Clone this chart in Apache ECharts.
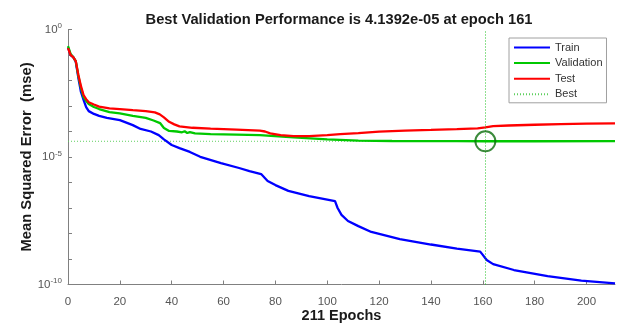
<!DOCTYPE html>
<html>
<head>
<meta charset="utf-8">
<script src="https://cdn.jsdelivr.net/npm/echarts@6/dist/echarts.min.js"></script>
<style>html,body{margin:0;padding:0;background:#fff;}#c{width:617px;height:329px;}</style>
</head>
<body>
<div id="c"></div>
<script>
const titleText = 'Best Validation Performance is 4.1392e-05 at epoch 161';
const xName = '211 Epochs';
const yName = 'Mean Squared Error  (mse)';
const seriesNames = ['Train', 'Validation', 'Test', 'Best'];
const xTicks = [0, 20, 40, 60, 80, 100, 120, 140, 160, 180, 200];
const yTicks = [1e-10, 1e-9, 1e-8, 1e-7, 1e-6, 1e-5, 1e-4, 1e-3, 1e-2, 1e-1, 1];
const yLabels = [1e-10, 1e-5, 1];
const epochMax = 211;
const bestEpoch = 161;
const bestValue = 4.1392e-5;

const trainEpochs = [0,1,2,3,4,5,6,7,8,10,12,15,20,25,28,32,35,37,40,43,47,51,59,66,70,74.5,77,80,85,93,103,104,105.5,108,112,117,128,140,150,159,160,161.5,164,172,185,198,211];
const trainValues = [2.0e-1,1.0e-1,8.3e-2,5.4e-2,1.26e-2,3.55e-3,1.74e-3,9.1e-4,6.3e-4,4.9e-4,4.1e-4,3.4e-4,2.8e-4,1.78e-4,1.26e-4,1.0e-4,7.2e-5,4.9e-5,2.95e-5,2.24e-5,1.58e-5,1.02e-5,5.75e-6,3.7e-6,2.8e-6,2.14e-6,1.15e-6,7.9e-7,4.7e-7,2.95e-7,1.86e-7,1.0e-7,5.4e-8,3.1e-8,1.95e-8,1.15e-8,6.0e-9,3.7e-9,2.57e-9,1.95e-9,1.45e-9,9.1e-10,6.3e-10,3.7e-10,2.14e-10,1.41e-10,1.1e-10];

const valEpochs = [0,1,2,3,4,5,6,7,8,10,12,16,20,25,30,33,35.5,37,39,42,44,45,46,47,49,55,65,74,87,100,112,125,140,150,161,180,211];
const valValues = [2.24e-1,1.1e-1,8.3e-2,5.75e-2,1.51e-2,5.1e-3,2.24e-3,1.58e-3,1.2e-3,9.1e-4,7.6e-4,5.75e-4,5.1e-4,4.1e-4,3.4e-4,2.7e-4,2.14e-4,1.38e-4,1.05e-4,1.0e-4,9.3e-5,1.02e-4,8.7e-5,9.5e-5,8.5e-5,7.9e-5,7.6e-5,7.2e-5,5.9e-5,4.9e-5,4.37e-5,4.24e-5,4.18e-5,4.16e-5,4.1392e-5,4.15e-5,4.16e-5];

const testEpochs = [0,1,2,3,4,5,6,7,8,10,12,16,20,25,30,33.5,35.4,37,39,41,43,48,55,65,74,76,78,82,87,93,100,105,112,120,130,140,150,158,161,164,170,180,190,200,211];
const testValues = [1.86e-1,1.0e-1,8.3e-2,5.75e-2,1.66e-2,6.0e-3,2.7e-3,1.86e-3,1.4e-3,1.15e-3,9.5e-4,8.0e-4,7.6e-4,6.9e-4,6.3e-4,5.6e-4,4.7e-4,3.6e-4,2.4e-4,1.9e-4,1.58e-4,1.4e-4,1.3e-4,1.18e-4,1.08e-4,1.0e-4,8.5e-5,7.2e-5,6.6e-5,6.6e-5,7.2e-5,7.9e-5,8.7e-5,9.8e-5,1.08e-4,1.15e-4,1.23e-4,1.32e-4,1.45e-4,1.62e-4,1.72e-4,1.84e-4,1.94e-4,2.02e-4,2.08e-4];

const zip = (xs, ys) => xs.map((x, i) => [x, ys[i]]);
const font = 'Liberation Sans, Arial, sans-serif';
const bestStyle = {color: '#5fcf5f', width: 1, type: [1, 2]};
const bestVStyle = {color: '#22c022', width: 1, type: [1, 2]};

const chart = echarts.init(document.getElementById('c'), null, {renderer: 'canvas'});
chart.setOption({
  animation: false,
  backgroundColor: '#fff',
  title: {
    text: titleText,
    left: 334, top: 7, textAlign: 'center',
    textStyle: {fontFamily: font, fontWeight: 'bold', fontSize: 14.7, color: '#1a1a1a'}
  },
  grid: {left: 68, right: 2, top: 29.5, bottom: 44.5, containLabel: false},
  legend: {
    data: seriesNames,
    orient: 'vertical',
    left: 509, top: 38,
    padding: [4, 4, 3, 4],
    itemWidth: 36, itemHeight: 10, itemGap: 4.6,
    backgroundColor: '#fff',
    borderColor: '#a0a0a0', borderWidth: 1, borderRadius: 0,
    itemStyle: {opacity: 0},
    textStyle: {fontFamily: font, fontSize: 11, color: '#333'}
  },
  xAxis: {
    type: 'value', min: 0, max: epochMax,
    name: xName, nameLocation: 'middle', nameGap: 24, nameMoveOverlap: false,
    nameTextStyle: {fontFamily: font, fontWeight: 'bold', fontSize: 14.5, color: '#1a1a1a'},
    axisLine: {show: true, lineStyle: {color: '#808080', width: 1}},
    axisTick: {show: true, inside: true, length: 4, customValues: xTicks, lineStyle: {color: '#808080'}},
    axisLabel: {customValues: xTicks, margin: 11, fontFamily: font, fontSize: 11.5, color: '#555'},
    splitLine: {show: false}
  },
  yAxis: {
    type: 'log', logBase: 10, min: 1e-10, max: 1,
    name: yName, nameLocation: 'middle', nameGap: 34, nameMoveOverlap: false,
    nameTextStyle: {fontFamily: font, fontWeight: 'bold', fontSize: 14.8, color: '#1a1a1a'},
    axisLine: {show: true, lineStyle: {color: '#808080', width: 1}},
    axisTick: {show: true, inside: true, length: 4, customValues: yTicks, lineStyle: {color: '#808080'}},
    axisLabel: {
      customValues: yLabels, margin: 6,
      formatter: v => '{b|10}{s|' + Math.round(Math.log10(v)) + '}',
      rich: {
        b: {fontFamily: font, fontSize: 11.5, color: '#555'},
        s: {fontFamily: font, fontSize: 8, color: '#555', padding: [0, 0, 7, 0]}
      }
    },
    splitLine: {show: false}
  },
  series: [
    {name: 'Train', type: 'line', data: zip(trainEpochs, trainValues), symbol: 'none', z: 2,
     lineStyle: {color: '#0000ff', width: 2.3}, itemStyle: {color: '#0000ff'}},
    {name: 'Validation', type: 'line', data: zip(valEpochs, valValues), symbol: 'none', z: 3,
     lineStyle: {color: '#00c800', width: 2.3}, itemStyle: {color: '#00c800'}},
    {name: 'Test', type: 'line', data: zip(testEpochs, testValues), symbol: 'none', z: 4,
     lineStyle: {color: '#ff0000', width: 2.3}, itemStyle: {color: '#ff0000'}},
    {name: 'Best', type: 'line', data: [[0, bestValue], [epochMax, bestValue]], symbol: 'none', z: 1,
     lineStyle: bestStyle, itemStyle: {color: '#5fcf5f'},
     markLine: {silent: true, symbol: 'none', label: {show: false},
       lineStyle: bestVStyle,
       emphasis: {disabled: true},
       data: [{xAxis: bestEpoch, lineStyle: bestVStyle}]}},
    {name: 'bestMarker', type: 'scatter', data: [[bestEpoch, bestValue]], symbol: 'circle', symbolSize: 20, z: 5,
     itemStyle: {color: 'rgba(0,0,0,0)', borderColor: '#0b6e0b', borderWidth: 2}}
  ]
});
</script>
</body>
</html>
